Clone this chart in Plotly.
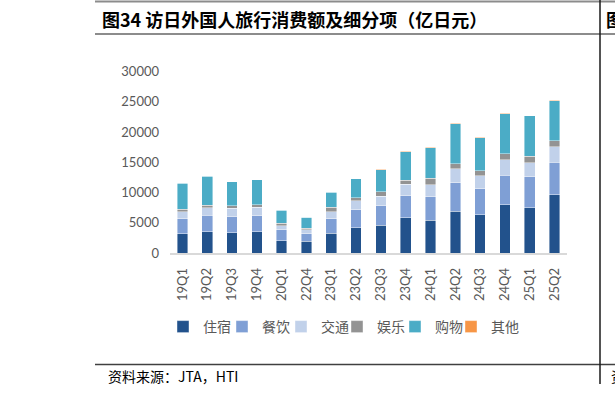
import plotly.graph_objects as go

categories = ["19Q1","19Q2","19Q3","19Q4","20Q1","22Q4","23Q1","23Q2","23Q3","23Q4",
              "24Q1","24Q2","24Q3","24Q4","25Q1","25Q2"]
lodging   = [3200,3530,3360,3530,2040,1940,3310,4190,4590,5800,5460,6950,6340,8000,7500,9650]
food      = [2480,2710,2650,2650,1770,1260,2320,2930,3190,3640,3870,4690,4310,4860,5130,5370]
transport = [1160,1260,1390,1380, 710, 660,1160,1540,1610,1930,1930,2270,2100,2540,2320,2580]
entertain = [ 440, 400, 430, 440, 400, 230, 780, 450, 710, 660,1110, 830, 880, 990,1060, 990]
shopping  = [4260,4800,3920,4090,2150,1820,2480,3140,3690,4740,5060,6620,5460,6660,6670,6580]
other     = [  60,  60,  60,  60,  50,  40,  60,  60,  60,  60,  70,  70,  70,  70,  70,  70]
series_names = ["住宿","餐饮","交通","娱乐","购物","其他"]
y_ticks = [0,5000,10000,15000,20000,25000,30000]
y_tick_labels = ["0","5000","10000","15000","20000","25000","30000"]

colors = ["#22528c","#7f9fd5","#c1d1ea","#939393","#4bacc6","#f79646"]
W, H = 615, 395
def px(x): return x / W
def py(y): return 1 - y / H

legend_ids = ["legend","legend2","legend3","legend4","legend5","legend6"]
legend_left = [163, 222, 281, 337, 395, 451]

fig = go.Figure()
for name, vals, c, lid in zip(series_names, [lodging, food, transport, entertain, shopping, other], colors, legend_ids):
    fig.add_trace(go.Bar(x=categories, y=vals, name=name, legend=lid,
                         marker=dict(color=c, line=dict(color="rgba(255,255,255,0.7)", width=0.6))))

axis_font = dict(family="Lato, Liberation Sans, sans-serif", size=13, color="#595959")
legend_font = dict(family="Noto Sans CJK SC", size=14, color="#595959")
layout_legends = {}
for lid, lx in zip(legend_ids, legend_left):
    layout_legends[lid] = dict(orientation="h", x=px(lx), xanchor="left", y=py(327), yanchor="middle",
                               font=legend_font, itemwidth=30, borderwidth=0,
                               bgcolor="rgba(0,0,0,0)")

fig.update_layout(
    width=W, height=H, barmode="stack", bargap=0.57,
    paper_bgcolor="white", plot_bgcolor="white",
    margin=dict(l=0, r=0, t=0, b=0, autoexpand=False),
    xaxis=dict(domain=[px(170), px(567)], type="category", tickangle=-90, automargin=False,
               showline=True, linecolor="#d9d9d9", linewidth=1.5,
               showgrid=False, ticks="", tickfont=axis_font, ticklabelstandoff=8),
    yaxis=dict(domain=[py(253), py(71.7)], range=[0, 30000], tickvals=y_ticks,
               ticktext=y_tick_labels, automargin=False,
               showgrid=False, zeroline=False, showline=False, ticks="",
               tickfont=axis_font, ticklabelstandoff=10),
    showlegend=True,
    **layout_legends,
)

shapes = [
    dict(type="line", xref="paper", yref="paper", x0=px(95), x1=1, y0=py(1.5), y1=py(1.5),
         line=dict(color="#8c8c8c", width=2)),
    dict(type="line", xref="paper", yref="paper", x0=px(95), x1=1, y0=py(34), y1=py(34),
         line=dict(color="#8c8c8c", width=2)),
    dict(type="line", xref="paper", yref="paper", x0=px(95), x1=1, y0=py(364.5), y1=py(364.5),
         line=dict(color="#404040", width=1.5)),
    dict(type="line", xref="paper", yref="paper", x0=px(600), x1=px(600), y0=py(0), y1=py(384),
         line=dict(color="#1a1a1a", width=1.5)),
]
fig.update_layout(shapes=shapes)

fig.add_annotation(text="<b>图34 访日外国人旅行消费额及细分项（亿日元）</b>", xref="paper", yref="paper",
                   x=px(100), y=py(18.5), xanchor="left", yanchor="middle", showarrow=False,
                   font=dict(family="Noto Sans CJK SC", size=18, color="#000000"))
fig.add_annotation(text="<b>图</b>", xref="paper", yref="paper",
                   x=px(604), y=py(18.5), xanchor="left", yanchor="middle", showarrow=False,
                   font=dict(family="Noto Sans CJK SC", size=18, color="#000000"))
fig.add_annotation(text="资料来源：JTA，HTI", xref="paper", yref="paper",
                   x=px(106), y=py(376), xanchor="left", yanchor="middle", showarrow=False,
                   font=dict(family="Noto Sans CJK SC", size=14, color="#000000"))
fig.add_annotation(text="资", xref="paper", yref="paper",
                   x=px(609), y=py(376), xanchor="left", yanchor="middle", showarrow=False,
                   font=dict(family="Noto Sans CJK SC", size=14, color="#000000"))

fig.write_html("out.html", config={"displayModeBar": False},
               post_script="document.body.style.margin='0';document.body.style.overflow='hidden';")
